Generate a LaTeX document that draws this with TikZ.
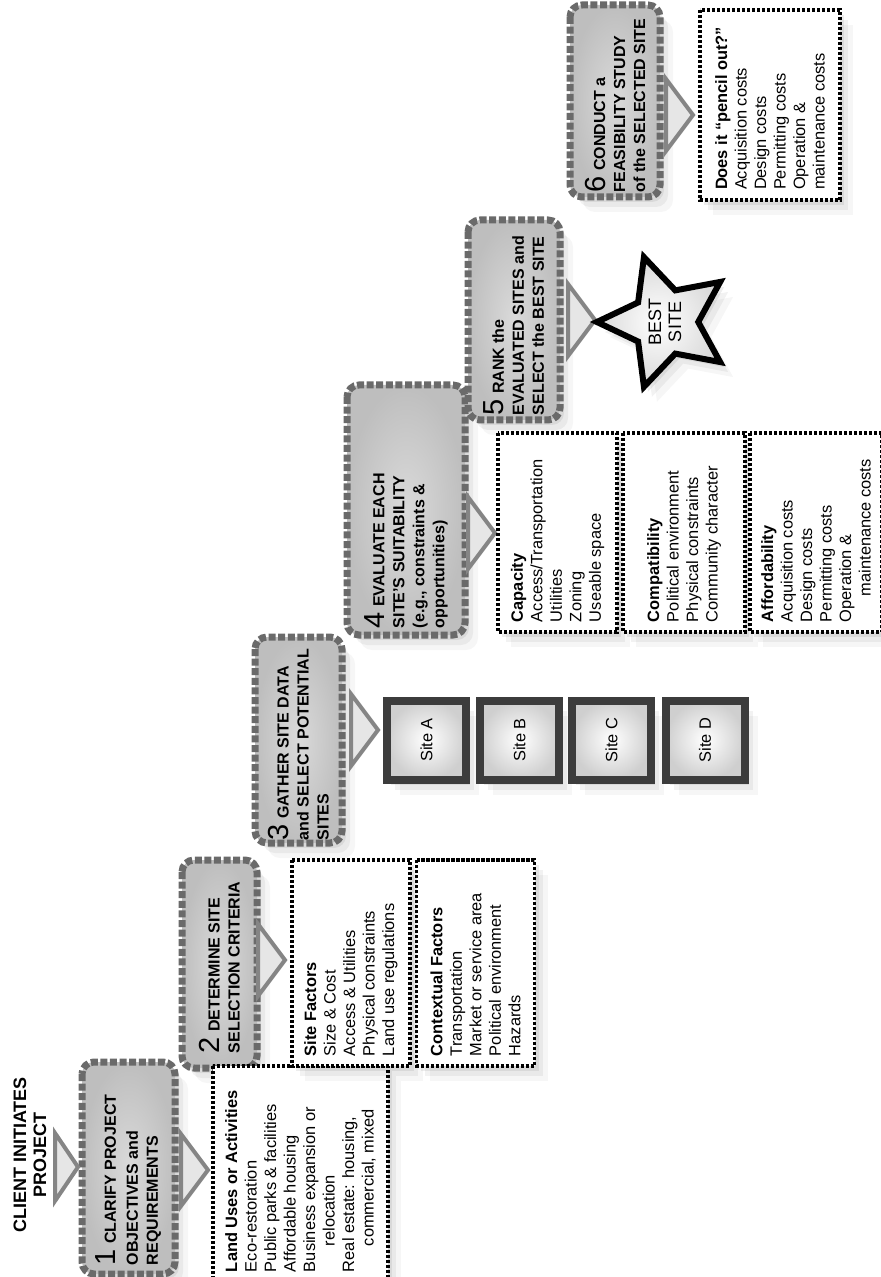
\documentclass[tikz,border=0pt]{standalone}
\usepackage{fontspec}
\setmainfont{Liberation Sans}
\usetikzlibrary{shapes.geometric,shadows}
\definecolor{stepin}{HTML}{DADADA}
\definecolor{stepout}{HTML}{BEBEBE}
\definecolor{stepedge}{HTML}{6A6A6A}
\definecolor{tricol}{HTML}{858585}
\definecolor{trifill}{HTML}{E6E6E6}
\definecolor{sitedark}{HTML}{3C3C3C}
\newcommand\stepnum[1]{{\fontsize{14.5}{14.5}\selectfont\mdseries #1}\hspace{2.5pt}}
\newcommand\myStepFont{\fontsize{8}{10}\selectfont\bfseries}
\newcommand\myBoxFont{\fontsize{8.2}{9.75}\selectfont}
\tikzset{
  softshadow/.style={
    general shadow={shadow xshift=2pt,shadow yshift=-2.5pt,fill=black,opacity=.07},
    general shadow={shadow xshift=4pt,shadow yshift=-5pt,fill=black,opacity=.05},
    general shadow={shadow xshift=6.5pt,shadow yshift=-7.5pt,fill=black,opacity=.035}},
  stepbox/.style={rotate=90, softshadow, draw=stepedge, inner color=stepin,
    outer color=stepout, line width=3.5pt, dash pattern=on 3.5pt off 1.3pt,
    rounded corners=6pt, inner sep=0pt},
  steptext/.style={rotate=90, anchor=west, align=flush left, font=\myStepFont,
    inner sep=0pt},
  infobox/.style={rotate=90, softshadow, draw=black, fill=white, line width=1.6pt,
    dash pattern=on 1.6pt off 0.9pt, align=flush left, font=\myBoxFont,
    inner xsep=5pt, inner ysep=4pt},
  sitebox/.style={rotate=90, softshadow, draw=sitedark, line width=4pt,
    inner color=white, outer color=gray!38, minimum width=39.5pt,
    minimum height=39.5pt, font=\myBoxFont},
  tri/.style={draw=tricol, fill=trifill, line width=2pt, line join=miter},
  beststar/.style={star, star points=5, star point ratio=2.05, rotate=90,
    draw=black, line width=3pt, inner color=white, outer color=gray!30,
    minimum size=68pt, inner sep=0pt, align=center, softshadow,
    font=\fontsize{9}{10}\selectfont}
}
\begin{document}
\begin{tikzpicture}[x=0.5pt,y=-0.5pt]
\useasboundingbox (0,0) rectangle (880,1277);
% arrow apexes
\coordinate (t0) at (78,1167);
\coordinate (t1) at (208,1170);
\coordinate (t2) at (285,960);
\coordinate (t3) at (378,730);
\coordinate (t4) at (495,533);
\coordinate (t5) at (595,320);
\coordinate (t6) at (693,115);
% start label
\node[rotate=90, align=center, font=\fontsize{9}{10}\selectfont\bfseries] (client) at (30,1155) {CLIENT INITIATES\\PROJECT};
% steps
\node[stepbox, minimum width=106pt, minimum height=46.5pt] (s1) at (128.5,1168) {};
\node[steptext] (s1text) at ([yshift=6pt]s1.west) {\stepnum{1}CLARIFY PROJECT\\[1pt]OBJECTIVES and\\REQUIREMENTS};
\node[stepbox, minimum width=104pt, minimum height=37.5pt] (s2) at (219.5,964) {};
\node[steptext] (s2text) at ([yshift=9pt]s2.west) {\stepnum{2}DETERMINE SITE\\SELECTION CRITERIA};
\node[stepbox, minimum width=103pt, minimum height=43.5pt] (s3) at (298.5,740) {};
\node[steptext] (s3text) at ([yshift=3pt]s3.west) {\stepnum{3}GATHER SITE DATA\\and SELECT POTENTIAL\\SITES};
\node[stepbox, minimum width=125pt, minimum height=59pt] (s4) at (406,510) {};
\node[steptext] (s4text) at ([yshift=5pt]s4.west) {\stepnum{4}EVALUATE EACH\\SITE'S SUITABILITY\\(e.g., constraints \&\\opportunities)};
\node[stepbox, minimum width=100pt, minimum height=46pt] (s5) at (514,320) {};
\node[steptext] (s5text) at ([yshift=4pt]s5.west) {\stepnum{5}RANK the\\EVALUATED SITES and\\SELECT the BEST SITE};
\node[stepbox, minimum width=96pt, minimum height=45pt] (s6) at (615,101) {};
\node[steptext] (s6text) at ([yshift=4pt]s6.west) {\stepnum{6}CONDUCT a\\FEASIBILITY STUDY\\of the SELECTED SITE};
% arrows
\draw[tri] (t0) -- ++(-23,-34) -- ++(0,68) -- cycle;
\foreach \t in {t1,t2,t3,t4,t5,t6}
  \draw[tri] (\t) -- ++(-27,-36) -- ++(0,72) -- cycle;
% info boxes
\node[infobox, minimum width=108pt, minimum height=87.5pt, text width=98pt] (landuse) at (300.5,1174)
  {\textbf{Land Uses or Activities}\\Eco-restoration\\Public parks \& facilities\\Affordable housing\\Business expansion or\\\hspace*{13pt}relocation\\Real estate: housing,\\\hspace*{13pt}commercial, mixed};
\node[infobox, minimum width=103pt, minimum height=59pt, text width=93pt] (sitefac) at (351,963)
  {\textbf{Site Factors}\\Size \& Cost\\Access \& Utilities\\Physical constraints\\Land use regulations};
\node[infobox, minimum width=103pt, minimum height=59pt, text width=93pt] (context) at (475.5,963)
  {\textbf{Contextual Factors}\\Transportation\\Market or service area\\Political environment\\Hazards};
\node[sitebox] (siteA) at (426.5,740) {Site A};
\node[sitebox] (siteB) at (519.5,740) {Site B};
\node[sitebox] (siteC) at (611.5,740) {Site C};
\node[sitebox] (siteD) at (705,740) {Site D};
\node[infobox, minimum width=99.5pt, minimum height=59.5pt, text width=89.5pt] (capacity) at (557.5,532.5)
  {\textbf{Capacity}\\Access/Transportation\\Utilities\\Zoning\\Useable space};
\node[infobox, minimum width=99.5pt, minimum height=61pt, text width=89.5pt] (compat) at (684,532.5)
  {\textbf{Compatibility}\\Political environment\\Physical constraints\\Community character};
\node[infobox, minimum width=99.5pt, minimum height=66pt, text width=89.5pt] (afford) at (816,532.5)
  {\textbf{Affordability}\\Acquisition costs\\Design costs\\Permitting costs\\Operation \&\\\hspace*{13pt}maintenance costs};
\node[beststar] (best) at (665,322) {BEST\\SITE};
\node[infobox, minimum width=95pt, minimum height=70pt, text width=85pt] (pencil) at (770,105)
  {\textbf{Does it “pencil out?”}\\Acquisition costs\\Design costs\\Permitting costs\\Operation \&\\maintenance costs};
\end{tikzpicture}
\end{document}
